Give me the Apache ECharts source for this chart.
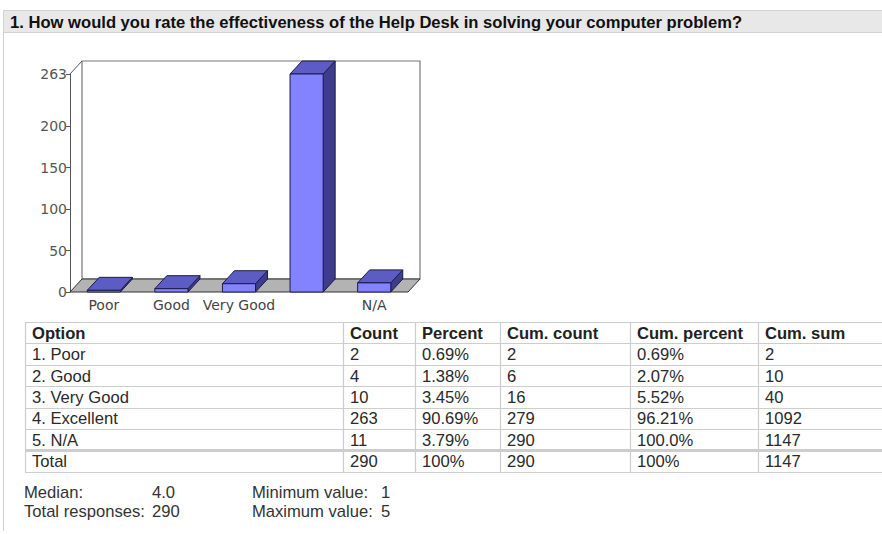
<!DOCTYPE html>
<html>
<head>
<meta charset="utf-8">
<style>
  html, body { margin: 0; padding: 0; background: #ffffff; }
  #chart { width: 882px; height: 534px; }
</style>
<script src="https://cdn.jsdelivr.net/npm/echarts@6/dist/echarts.min.js"></script>
</head>
<body>
<div id="chart"></div>
<script>
// ---------------- data ----------------
const titleText = '1. How would you rate the effectiveness of the Help Desk in solving your computer problem?';
const categories = ['Poor', 'Good', 'Very Good', 'Excellent', 'N/A'];
const counts = [2, 4, 10, 263, 11];
const xTickLabels = ['Poor', 'Good', 'Very Good', '', 'N/A'];
const yTickValues = [0, 50, 100, 150, 200, 263];

const tableHeaders = ['Option', 'Count', 'Percent', 'Cum. count', 'Cum. percent', 'Cum. sum'];
const optionLabels = ['1. Poor', '2. Good', '3. Very Good', '4. Excellent', '5. N/A'];
const percents = ['0.69%', '1.38%', '3.45%', '90.69%', '3.79%'];
const cumCounts = [2, 6, 16, 279, 290];
const cumPercents = ['0.69%', '2.07%', '5.52%', '96.21%', '100.0%'];
const cumSums = [2, 10, 40, 1092, 1147];
const totalRow = ['Total', '290', '100%', '290', '100%', '1147'];

const statsLeft = [['Median:', '4.0'], ['Total responses:', '290']];
const statsRight = [['Minimum value:', '1'], ['Maximum value:', '5']];

// ---------------- layout / style ----------------
const DX = 12, DY = -13;           // 3D depth offset
const FONT = '"Liberation Sans", Arial, sans-serif';
const AXFONT = '"DejaVu Sans", Verdana, sans-serif';
const FS = '16.6px ';

const chart = echarts.init(document.getElementById('chart'), null, { renderer: 'svg' });

const graphics = [];
// title bar
graphics.push({ type: 'rect', shape: { x: 3.5, y: 10.5, width: 890, height: 22 },
  style: { fill: '#e8e8e8', stroke: '#d2d2d2', lineWidth: 1 }, z: 1 });
graphics.push({ type: 'text', x: 10, y: 22, style: { text: titleText, font: 'bold 16.6px ' + FONT,
  fill: '#111', textVerticalAlign: 'middle' }, z: 2 });
// left frame line
graphics.push({ type: 'line', shape: { x1: 3.5, y1: 32, x2: 3.5, y2: 531 },
  style: { stroke: '#cfcfcf', lineWidth: 1 }, z: 1 });

// table
const colX = [25, 343, 415, 500, 630, 758];
const tableRight = 890;
const rowTop = 322, rowH = 21.4;
const bodyRows = optionLabels.map((o, i) => [o, String(counts[i]), percents[i], String(cumCounts[i]), cumPercents[i], String(cumSums[i])]);
const allRows = [tableHeaders].concat(bodyRows).concat([totalRow]);
const nRows = allRows.length;
const tableBottom = rowTop + nRows * rowH;
const lineCol = '#cdcdcd';
for (let r = 0; r <= nRows; r++) {
  const y = Math.round(rowTop + r * rowH) + 0.5;
  graphics.push({ type: 'line', shape: { x1: colX[0], y1: y, x2: tableRight, y2: y },
    style: { stroke: lineCol, lineWidth: (r === nRows - 1) ? 3 : 1.2 }, z: 1 });
}
colX.forEach(x => {
  graphics.push({ type: 'line', shape: { x1: x + 0.5, y1: rowTop, x2: x + 0.5, y2: Math.round(tableBottom) + 0.5 },
    style: { stroke: lineCol, lineWidth: 1.2 }, z: 1 });
});
allRows.forEach((row, r) => {
  row.forEach((cell, c) => {
    graphics.push({ type: 'text', x: colX[c] + 7, y: rowTop + r * rowH + rowH / 2 + 0.5,
      style: { text: cell, font: (r === 0 ? 'bold ' : '') + FS + FONT, fill: r === 0 ? '#222' : '#2a2a2a',
        textVerticalAlign: 'middle' }, z: 2 });
  });
});

// stats
statsLeft.forEach((s, i) => {
  const y = 492 + i * 19;
  graphics.push({ type: 'text', x: 24, y: y, style: { text: s[0], font: FS + FONT, fill: '#333', textVerticalAlign: 'middle' } });
  graphics.push({ type: 'text', x: 152, y: y, style: { text: s[1], font: FS + FONT, fill: '#333', textVerticalAlign: 'middle' } });
});
statsRight.forEach((s, i) => {
  const y = 492 + i * 19;
  graphics.push({ type: 'text', x: 252, y: y, style: { text: s[0], font: FS + FONT, fill: '#333', textVerticalAlign: 'middle' } });
  graphics.push({ type: 'text', x: 381, y: y, style: { text: s[1], font: FS + FONT, fill: '#333', textVerticalAlign: 'middle' } });
});

const yMax = yTickValues[yTickValues.length - 1];

const option = {
  animation: false,
  grid: { left: 70, top: 74, width: 338, height: 218, containLabel: false },
  xAxis: {
    type: 'category',
    data: categories,
    boundaryGap: true,
    axisLine: { show: false },
    axisTick: { show: false },
    axisLabel: { interval: 0, margin: 6, color: '#444', fontFamily: AXFONT, fontSize: 14,
      formatter: (v, i) => xTickLabels[i] }
  },
  yAxis: {
    type: 'value',
    min: 0,
    max: yMax,
    splitLine: { show: false },
    axisLine: { show: true, lineStyle: { color: '#555', width: 1 } },
    axisTick: { show: true, length: 4, customValues: yTickValues, lineStyle: { color: '#555' } },
    axisLabel: { customValues: yTickValues, margin: 3, color: '#555', fontFamily: AXFONT, fontSize: 14 }
  },
  series: [
    {
      type: 'custom',
      z: 1,
      silent: true,
      data: [[0, 0]],
      renderItem: function (params, api) {
        const bw = api.size([1, 0])[0];
        const p0 = api.coord([0, 0]);
        const pn = api.coord([categories.length - 1, 0]);
        const pt = api.coord([0, yMax]);
        const left = p0[0] - bw / 2, right = pn[0] + bw / 2, base = p0[1], top = pt[1];
        return {
          type: 'group',
          children: [
            { type: 'rect', shape: { x: left + DX, y: top + DY, width: right - left, height: base - top },
              style: { fill: '#fff', stroke: '#777', lineWidth: 1.2 } },
            { type: 'line', shape: { x1: left, y1: top, x2: left + DX, y2: top + DY },
              style: { stroke: '#555', lineWidth: 1 } },
            { type: 'polygon', shape: { points: [[left, base], [right, base], [right + DX, base + DY], [left + DX, base + DY]] },
              style: { fill: '#b3b3b3', stroke: '#333', lineWidth: 1 } }
          ]
        };
      }
    },
    {
      type: 'custom',
      z: 2,
      data: counts.map((v, i) => [i, v]),
      renderItem: function (params, api) {
        const i = api.value(0), v = api.value(1);
        const bw = api.size([1, 0])[0] * 0.49;
        const pTop = api.coord([i, v]);
        const pBase = api.coord([i, 0]);
        const x0 = pTop[0] - bw / 2, x1 = pTop[0] + bw / 2, yT = pTop[1], yB = pBase[1];
        const edge = '#1c1c48';
        return {
          type: 'group',
          children: [
            { type: 'polygon', shape: { points: [[x1, yT], [x1 + DX, yT + DY], [x1 + DX, yB + DY], [x1, yB]] },
              style: { fill: '#3d3d8c', stroke: edge, lineWidth: 1 } },
            { type: 'polygon', shape: { points: [[x0, yT], [x1, yT], [x1 + DX, yT + DY], [x0 + DX, yT + DY]] },
              style: { fill: '#5c5cc4', stroke: edge, lineWidth: 1 } },
            { type: 'rect', shape: { x: x0, y: yT, width: x1 - x0, height: yB - yT },
              style: { fill: '#8383ff', stroke: edge, lineWidth: 1 } }
          ]
        };
      }
    }
  ],
  graphic: graphics
};
chart.setOption(option);
</script>
</body>
</html>
